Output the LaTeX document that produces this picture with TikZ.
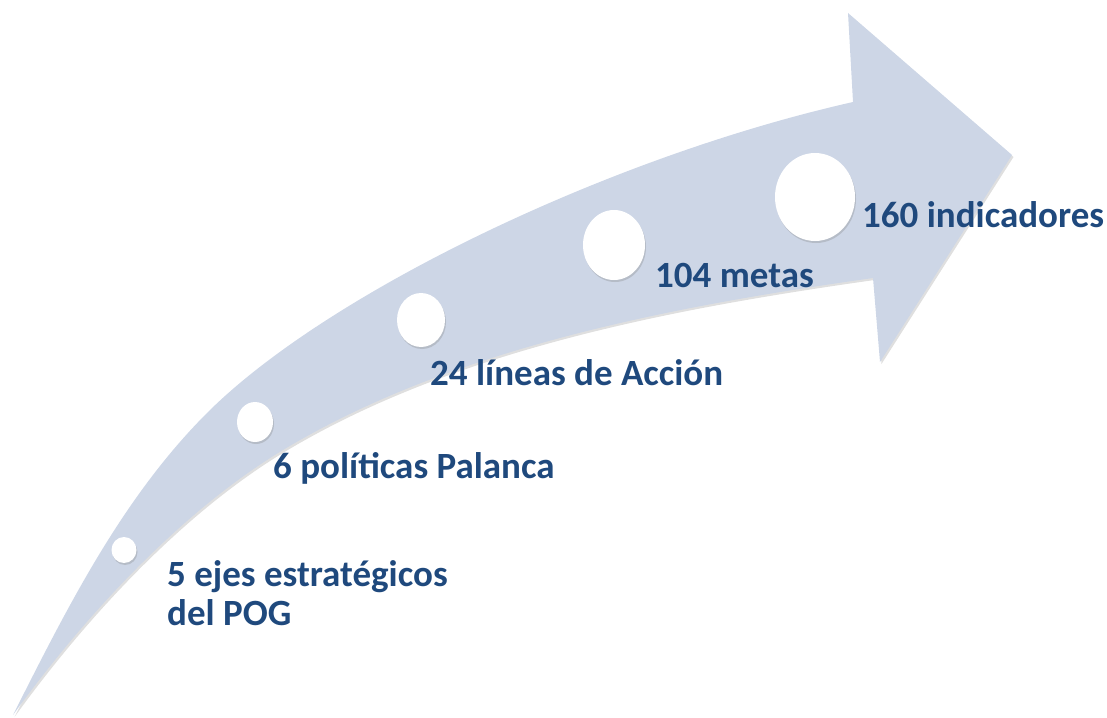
\documentclass[tikz,border=0pt]{standalone}
\usepackage{fontspec}
\setmainfont{Carlito}
\usetikzlibrary{shapes.geometric, shadows}
\definecolor{bandfill}{RGB}{205,214,230}
\definecolor{labelblue}{RGB}{31,73,125}
\tikzset{
x=1pt, y=-1pt, % coordinates read like pixels, y grows downwards
band/.style={fill=bandfill, drop shadow={shadow xshift=1.5pt, shadow yshift=-2pt, opacity=0.25}}, % the curved arrow
milestone/.style={ellipse, fill=white, inner sep=0pt, drop shadow={shadow xshift=1pt, shadow yshift=-2pt, opacity=0.3}}, % white dots on the arrow
stagetext/.style={font=\bfseries\fontsize{37}{39}\selectfont, text=labelblue, inner sep=0pt, anchor=base west, align=left}, % the counts
}
\begin{document}
\begin{tikzpicture}
    \useasboundingbox (0,0) rectangle (1107,717);

    % curved arrow
    \path[band] (13,715) .. controls (67,608) and (122,498) .. (207,413)
        .. controls (327,293) and (609,157) .. (853,102)
        -- (848,13) -- (1012,155) -- (880,362) -- (873,278)
        .. controls (675,306) and (454,347) .. (283,450)
        .. controls (180,512) and (83,618) .. cycle;

    \node[milestone, minimum width=25pt, minimum height=26pt] (d1) at (124,550) {};
    \node[milestone, minimum width=36pt, minimum height=40pt] (d2) at (255,422) {};
    \node[milestone, minimum width=48pt, minimum height=54pt] (d3) at (421,320) {};
    \node[milestone, minimum width=62pt, minimum height=70pt] (d4) at (614,245) {};
    \node[milestone, minimum width=80pt, minimum height=88pt] (d5) at (815,197) {};

    \node[stagetext] (ejes) at (167,625) {5 ejes estratégicos\\del POG};
    \node[stagetext] (politicas) at (273,478) {6 políticas Palanca};
    \node[stagetext] (lineas) at (430,385) {24 líneas de Acción};
    \node[stagetext] (metas) at (655,287) {104 metas};
    \node[stagetext] (indicadores) at (862,227) {160 indicadores};
\end{tikzpicture}
\end{document}
